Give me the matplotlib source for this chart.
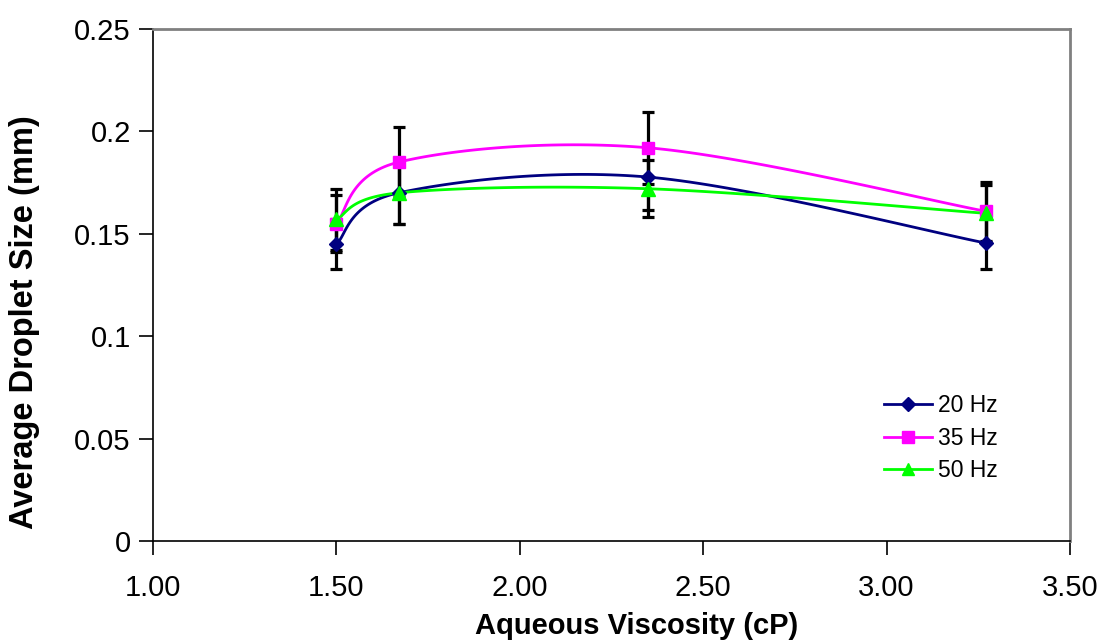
import numpy as np
import matplotlib
matplotlib.use("Agg")
import matplotlib.pyplot as plt

plt.rcParams['font.family'] = ['Liberation Sans', 'DejaVu Sans']

# data
viscosity = [1.50, 1.67, 2.35, 3.27]
size_20hz = [0.145, 0.170, 0.1777, 0.1455]
size_35hz = [0.155, 0.185, 0.192, 0.161]
size_50hz = [0.157, 0.170, 0.172, 0.160]
err_20hz = [0.012, 0.015, 0.016, 0.0127]
err_35hz = [0.014, 0.017, 0.0175, 0.0143]
err_50hz = [0.015, 0.015, 0.014, 0.014]
labels = ['20 Hz', '35 Hz', '50 Hz']

XMIN, XMAX, YMIN, YMAX = 1.0, 3.5, 0.0, 0.25
W_PX, H_PX = 917.0, 512.0  # plot area size in pixels, used for smoothing


def smooth(xs, ys, n=40):
    # Excel-like smoothed line (Catmull-Rom bezier) done in screen space
    px = (np.asarray(xs) - XMIN) / (XMAX - XMIN) * W_PX
    py = (np.asarray(ys) - YMIN) / (YMAX - YMIN) * H_PX
    pts = np.column_stack([px, py])
    out = []
    for i in range(len(pts) - 1):
        p0 = pts[i - 1] if i > 0 else pts[i]
        p1, p2 = pts[i], pts[i + 1]
        p3 = pts[i + 2] if i + 2 < len(pts) else pts[i + 1]
        c1 = p1 + (p2 - p0) / 6.0
        c2 = p2 - (p3 - p1) / 6.0
        t = np.linspace(0, 1, n)[:, None]
        seg = ((1 - t) ** 3) * p1 + 3 * ((1 - t) ** 2) * t * c1 + 3 * (1 - t) * t ** 2 * c2 + t ** 3 * p2
        out.append(seg if i == 0 else seg[1:])
    out = np.vstack(out)
    return out[:, 0] / W_PX * (XMAX - XMIN) + XMIN, out[:, 1] / H_PX * (YMAX - YMIN) + YMIN


fig = plt.figure(figsize=(11.02, 6.44), dpi=100)
ax = fig.add_axes([153 / 1102, 1 - 541 / 644, 917 / 1102, 512 / 644])

series = [
    (size_20hz, err_20hz, '#000080', 'D', 7.5),
    (size_35hz, err_35hz, '#FF00FF', 's', 9),
    (size_50hz, err_50hz, '#00FF00', '^', 10),
]

for (ys, err, col, mk, ms), lab in zip(series, labels):
    ax.errorbar(viscosity, ys, yerr=err, fmt='none', ecolor='black',
                elinewidth=2.3, capsize=4.5, capthick=2.3, zorder=2)
for (ys, err, col, mk, ms), lab in zip(series, labels):
    sx, sy = smooth(viscosity, ys)
    ax.plot(sx, sy, color=col, lw=2, zorder=3)
    ax.plot(viscosity, ys, linestyle='none', marker=mk, ms=ms, color=col, zorder=4)
    ax.plot([], [], color=col, lw=2, marker=mk, ms=ms * 0.9, label=lab)

ax.set_xlim(XMIN, XMAX)
ax.set_ylim(YMIN, YMAX)
ax.set_xticks(np.arange(1.0, 3.51, 0.5))
ax.set_xticklabels(['%.2f' % v for v in np.arange(1.0, 3.51, 0.5)])
ax.set_yticks([0, 0.05, 0.1, 0.15, 0.2, 0.25])
ax.set_yticklabels(['0', '0.05', '0.1', '0.15', '0.2', '0.25'])
ax.tick_params(direction='out', length=10, width=1.2, labelsize=21, pad=6, colors='black')
ax.tick_params(axis='x', pad=14)

for s in ['left', 'bottom']:
    ax.spines[s].set_color('black')
    ax.spines[s].set_linewidth(1.2)
for s in ['top', 'right']:
    ax.spines[s].set_color('#808080')
    ax.spines[s].set_linewidth(2)

ax.set_xlabel('Aqueous Viscosity (cP)', fontsize=21, fontweight='bold')
ax.xaxis.set_label_coords((637 - 153) / 917, -(612 - 541) / 512)
ax.set_ylabel('Average Droplet Size (mm)', fontsize=23.5, fontweight='bold')
ax.yaxis.set_label_coords(-(153 - 40) / 917, (541 - 322) / 512)

ax.legend(loc='upper left', bbox_to_anchor=(884 / 1102, 1 - 394 / 644),
          bbox_transform=fig.transFigure, frameon=False, fontsize=16.5,
          borderpad=0, borderaxespad=0, handlelength=2.1, handletextpad=0.25,
          labelspacing=0.42)

fig.savefig('out.png', dpi=100)
